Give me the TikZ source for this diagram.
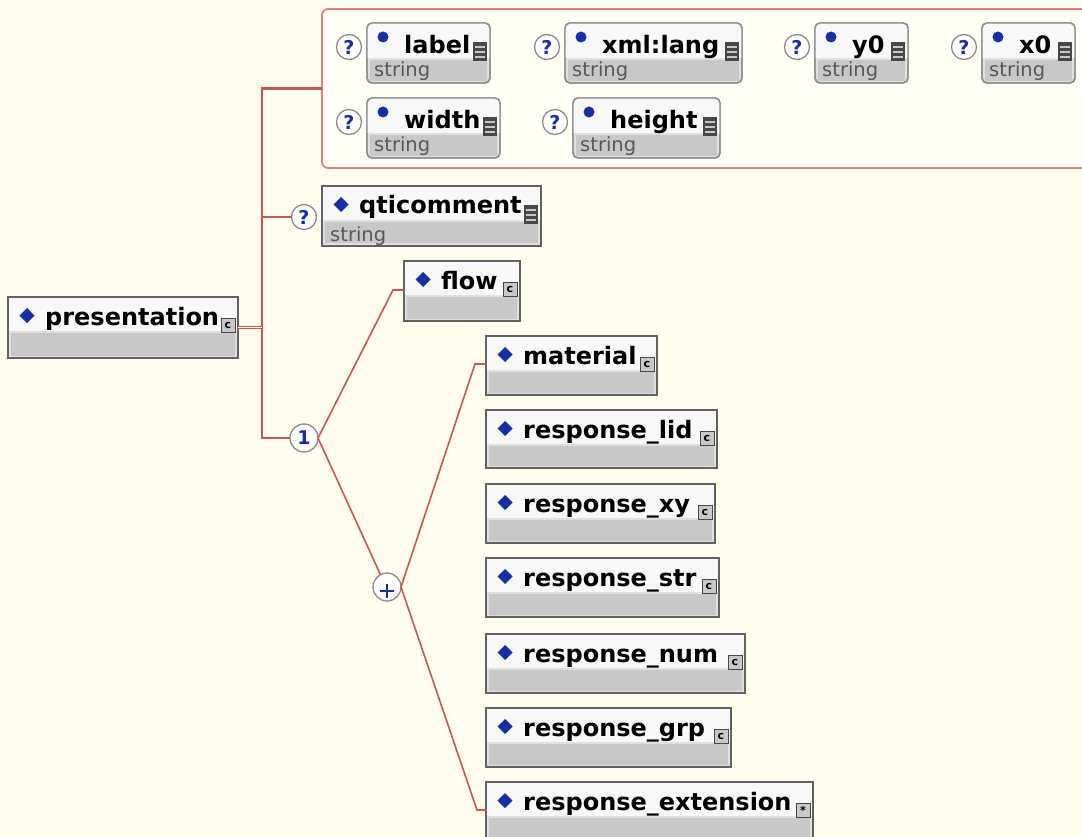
\documentclass[tikz,border=0pt]{standalone}
\usepackage{fontspec}
\setmainfont{DejaVu Sans}
\usetikzlibrary{calc}

\definecolor{bgcream}{RGB}{254,253,238}
\definecolor{grpfill}{RGB}{255,255,245}
\definecolor{grpline}{RGB}{220,128,128}
\definecolor{wire}{RGB}{204,84,84}
\definecolor{boxline}{RGB}{98,98,98}
\definecolor{attrline}{RGB}{140,140,140}
\definecolor{bandgray}{RGB}{200,200,200}
\definecolor{bandedge}{RGB}{224,224,224}
\definecolor{titlewhite}{RGB}{248,248,248}
\definecolor{markblue}{RGB}{24,46,164}
\definecolor{typegray}{RGB}{88,88,88}
\definecolor{icondark}{RGB}{72,72,72}

\tikzset{
  elemshape/.style={rectangle, draw=boxline, line width=1.6pt, fill=bandedge,
    inner sep=0pt, outer sep=0pt, anchor=north west},
  attrshape/.style={rectangle, rounded corners=5pt, draw=attrline, line width=1.4pt,
    fill=bandedge, inner sep=0pt, outer sep=0pt, anchor=north west},
  grpshape/.style={rectangle, rounded corners=6pt, draw=grpline, line width=1.8pt,
    fill=grpfill, inner sep=0pt, outer sep=0pt, anchor=north west},
  elemtext/.style={anchor=base west, inner sep=0pt, font=\bfseries\fontsize{24}{27}\selectfont},
  typetext/.style={anchor=base west, inner sep=0pt, text=typegray, font=\fontsize{19.5}{22}\selectfont},
  markcircle/.style={circle, draw=attrline, fill=white, line width=1.3pt, inner sep=0pt,
    outer sep=0pt, text=markblue, font=\bfseries\fontsize{19}{19}\selectfont},
  optmark/.style={markcircle, minimum size=25pt},
  compmark/.style={markcircle, minimum size=28pt},
  cbox/.style={rectangle, draw=icondark, fill=bandgray, line width=0.9pt, minimum size=14pt,
    inner sep=0pt, font=\bfseries\fontsize{11}{11}\selectfont},
  wire/.style={draw=wire, line width=1.6pt},
  trunk/.style={draw=wire, line width=2.6pt},
}

% complex-content icon at the right end of an element title
\newcommand\cicon[2]{\node[cbox] at (#1-10,#2+28) {c};}
\newcommand\xicon[2]{\node[cbox] at (#1-10,#2+28) {*};}
% simple-type icon (dark block with stripes)
\newcommand\listicon[2]{%
  \fill[icondark] (#1-17,#2+19) rectangle (#1-3,#2+38);
  \foreach \s in {24,29,34}{\draw[bandgray, line width=1.1pt] (#1-15,#2+\s) -- (#1-5,#2+\s);}
}

% element box: name, x, y, width, height, label, icon macro
\newcommand\elembox[7]{%
  \node[elemshape, minimum width=#4pt, minimum height=#5pt] (#1) at (#2,#3) {};
  \fill[titlewhite] (#2+1.2,#3+1.2) rectangle (#2+#4-1.2,#3+34);
  \fill[bandgray] (#2+3,#3+36) rectangle (#2+#4-3,#3+#5-2.5);
  \fill[markblue] (#2+19,#3+11) -- (#2+26.5,#3+18.5) -- (#2+19,#3+26) -- (#2+11.5,#3+18.5) -- cycle;
  \node[elemtext] at (#2+37,#3+28) {#6};
  #7{#2+#4}{#3}
}

% attribute box: name, x, y, width, label
\newcommand\attrbox[5]{%
  \node[attrshape, minimum width=#4pt, minimum height=60pt] (#1) at (#2,#3) {};
  \begin{scope}
    \clip[rounded corners=5pt] (#2,#3) rectangle (#2+#4,#3+60);
    \fill[titlewhite] (#2,#3) rectangle (#2+#4,#3+35);
    \fill[bandgray] (#2+3,#3+37) rectangle (#2+#4-3,#3+58);
  \end{scope}
  \draw[attrline, line width=1.4pt, rounded corners=5pt] (#2,#3) rectangle (#2+#4,#3+60);
  \fill[markblue] (#2+16,#3+14) circle (5.5pt);
  \node[elemtext] at (#2+37,#3+31) {#5};
  \node[typetext] at (#2+7,#3+54) {string};
  \listicon{#2+#4}{#3}
  \node[optmark] (#1q) at (#2-18,#3+24) {?};
}

\begin{document}
\begin{tikzpicture}[x=1pt,y=-1pt]
  \useasboundingbox (0,0) rectangle (1082,837);
  \clip (0,0) rectangle (1082,837);
  \fill[bgcream] (0,0) rectangle (1082,837);

  % attribute group
  \node[grpshape, minimum width=790pt, minimum height=159pt] (attrs) at (322,9) {};
  \attrbox{alabel}{367}{23}{123}{label}
  \attrbox{alang}{565}{23}{177}{xml:lang}
  \attrbox{ayzero}{815}{23}{93}{y0}
  \attrbox{axzero}{982}{23}{93}{x0}
  \attrbox{awidth}{367}{98}{133}{width}
  \attrbox{aheight}{573}{98}{147}{height}

  % elements
  \elembox{pres}{8}{297}{230}{61}{presentation}{\cicon}
  \elembox{qtic}{322}{186}{219}{60}{qticomment}{\listicon}
  \node[typetext] at (330,242) {string};
  \elembox{flow}{404}{261}{116}{60}{flow}{\cicon}
  \elembox{material}{486}{336}{171}{59}{material}{\cicon}
  \elembox{rlid}{486}{410}{231}{58}{response\_lid}{\cicon}
  \elembox{rxy}{486}{484}{229}{59}{response\_xy}{\cicon}
  \elembox{rstr}{486}{558}{233}{59}{response\_str}{\cicon}
  \elembox{rnum}{486}{634}{259}{59}{response\_num}{\cicon}
  \elembox{rgrp}{486}{708}{245}{59}{response\_grp}{\cicon}
  \elembox{rext}{486}{782}{327}{62}{response\_extension}{\xicon}

  % compositors
  \node[optmark] (qopt) at (304,217) {?};
  \node[compmark] (seq) at (304,438) {1};
  \node[compmark] (choice) at (387,587) {};
  \draw[markblue, line width=2.4pt] (380,591) -- (394,591) (387,584) -- (387,598);

  % connectors
  \coordinate (ttop) at (262,88.5);
  \coordinate (tbot) at (262,438);
  \draw[trunk] (attrs.west) -- (ttop) -- (tbot) -- (seq.west);
  \draw[wire, line width=2.2pt] (qopt.west) -- (qopt.west -| ttop);
  \draw[draw=wire, line width=1.2pt, double=bgcream, double distance=1.4pt]
    (pres.east) -- (pres.east -| ttop);

  \coordinate (flowbend) at (393,290);
  \draw[wire] (seq.east) -- (flowbend) -- (flowbend -| flow.west);
  \draw[wire] (seq.east) -- (choice.118);

  \coordinate (matbend) at (475,364);
  \draw[wire] (choice.east) -- (matbend) -- (matbend -| material.west);
  \coordinate (extbend) at (477,810);
  \draw[wire] (choice.east) -- (extbend) -- (extbend -| rext.west);
\end{tikzpicture}
\end{document}
